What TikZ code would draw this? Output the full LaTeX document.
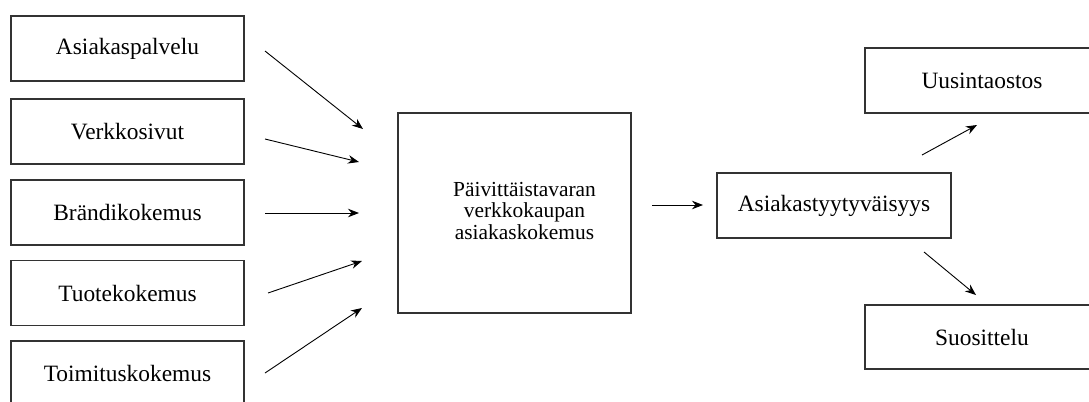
\documentclass[tikz,border=0pt]{standalone}
\usepackage{fontspec}
\setmainfont{Liberation Serif}
\usetikzlibrary{arrows.meta,calc}
\begin{document}
\begin{tikzpicture}[x=1bp,y=-1bp,
  txt/.style={font=\fontsize{23.5}{22}\selectfont,align=center,inner sep=0pt},
  box/.style={txt,draw=black!80,line width=1.1bp},
  link/.style={line width=0.9bp,-{Stealth[length=11bp,width=8.5bp]}}]
\useasboundingbox (0,0) rectangle (1089,401);
\clip (0,0) rectangle (1089,401);
% factor boxes on the left
\node[box,minimum width=233bp,minimum height=65bp] (b1) at (127.5,48.5) {Asiakaspalvelu};
\node[box,minimum width=233bp,minimum height=65bp] (b2) at (127.5,131.5) {Verkkosivut};
\node[box,minimum width=233bp,minimum height=65bp] (b3) at (127.5,212.5) {Brändikokemus};
\node[box,minimum width=233bp,minimum height=65bp] (b4) at (127.5,293) {Tuotekokemus};
\node[box,minimum width=233bp,minimum height=65bp] (b5) at (127.5,373.5) {Toimituskokemus};
% central concept
\node[box,minimum width=233bp,minimum height=200bp] (c) at (514.5,213) {};
\node[txt,font=\fontsize{21.5}{21.5}\selectfont] (ct) at ($(c.center)+(10,-2)$) {Päivittäistavaran\\verkkokaupan\\asiakaskokemus};
% outcome boxes
\node[box,minimum width=234bp,minimum height=65bp] (s) at (834,205.5) {Asiakastyytyväisyys};
\node[box,minimum width=234bp,minimum height=65bp] (u) at (982,80.5) {Uusintaostos};
\node[box,minimum width=234bp,minimum height=64bp] (r) at (982,337) {Suosittelu};
% connector end points
\coordinate (a1s) at (265,51);  \coordinate (a1e) at (363,129);
\coordinate (a2s) at (265,139); \coordinate (a2e) at (359,162);
\coordinate (a3s) at (265,213); \coordinate (a3e) at (359,213);
\coordinate (a4s) at (268,293); \coordinate (a4e) at (362,261);
\coordinate (a5s) at (265,373); \coordinate (a5e) at (362,308);
\coordinate (a6s) at (652,205); \coordinate (a6e) at (703,205);
\coordinate (a7s) at (922,155); \coordinate (a7e) at (977,125);
\coordinate (a8s) at (924,252); \coordinate (a8e) at (976,295);
\draw[link] (a1s) -- (a1e);
\draw[link] (a2s) -- (a2e);
\draw[link] (a3s) -- (a3e);
\draw[link] (a4s) -- (a4e);
\draw[link] (a5s) -- (a5e);
\draw[link] (a6s) -- (a6e);
\draw[link] (a7s) -- (a7e);
\draw[link] (a8s) -- (a8e);
\end{tikzpicture}
\end{document}
